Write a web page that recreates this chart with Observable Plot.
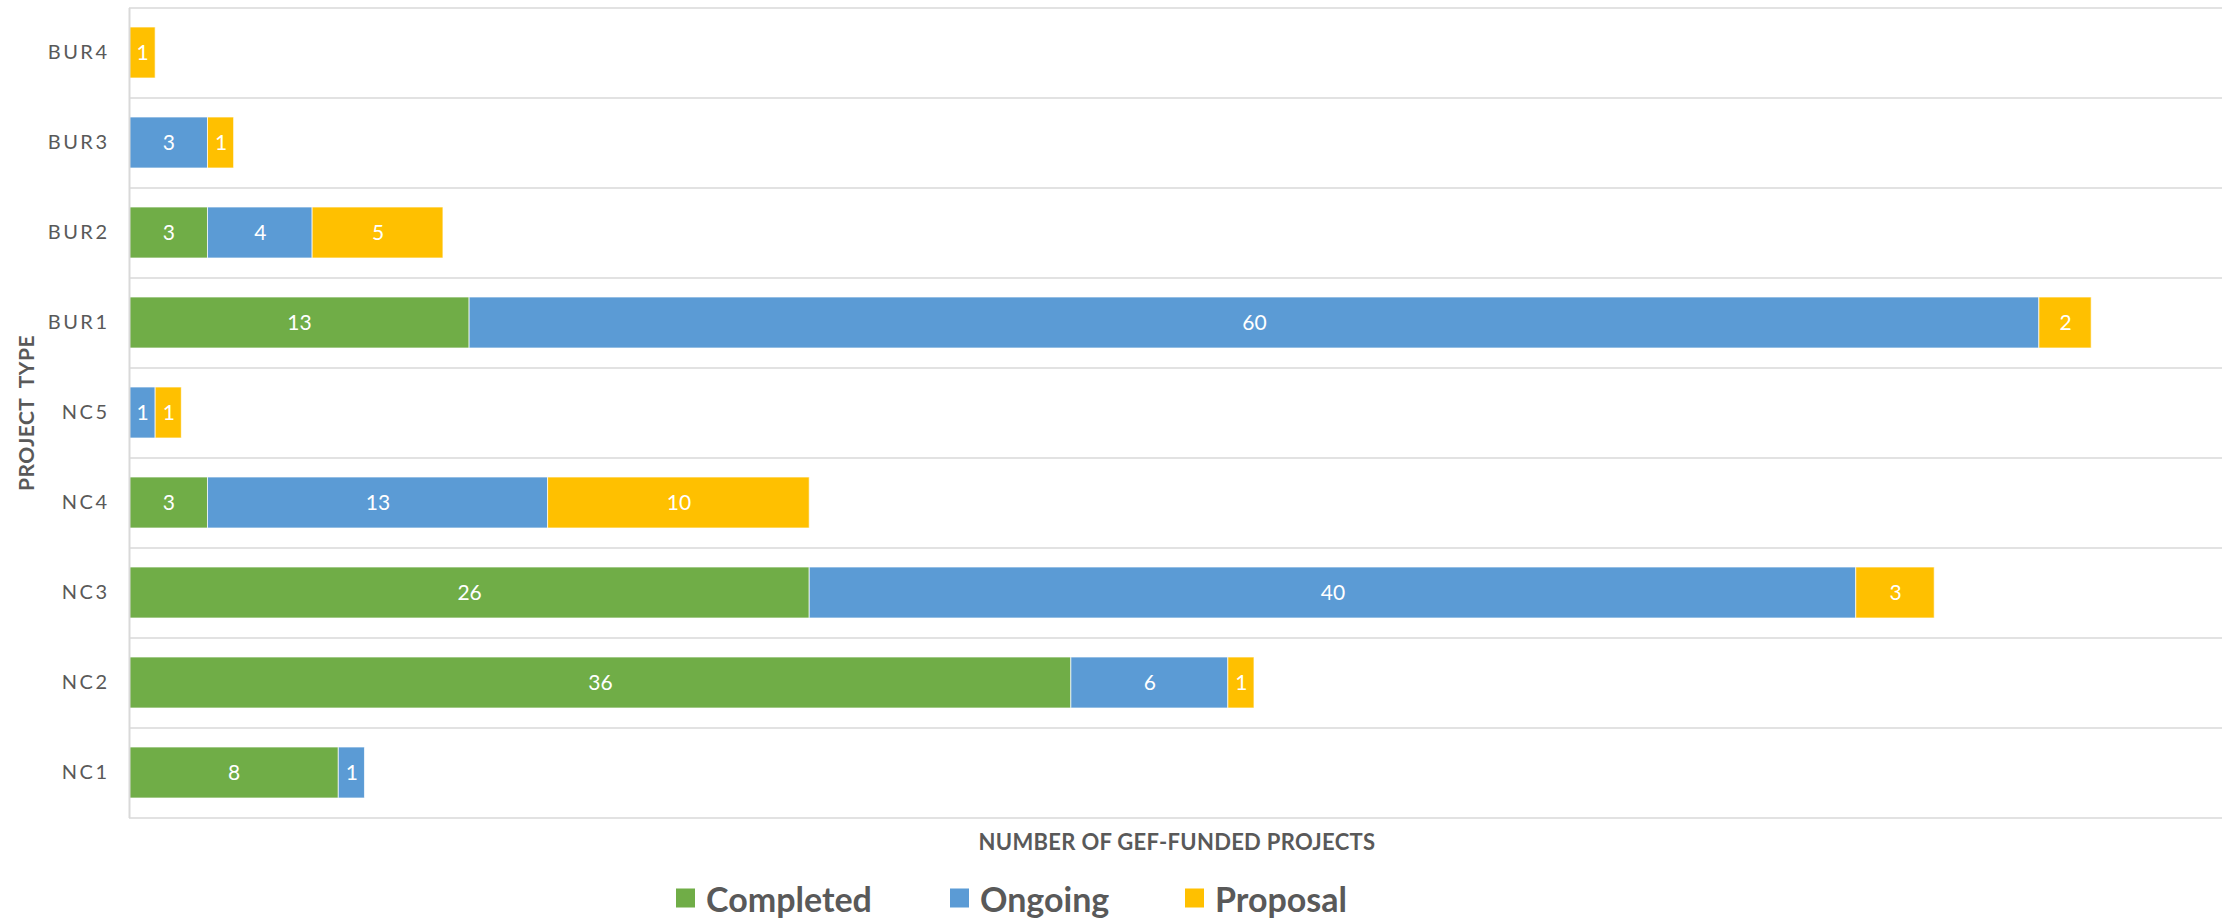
<!DOCTYPE html>
<html>
<head>
<meta charset="utf-8">
<script src="https://cdn.jsdelivr.net/npm/d3@7"></script>
<script src="https://cdn.jsdelivr.net/npm/@observablehq/plot@0.6"></script>
<style>
  html, body { margin: 0; padding: 0; background: #fff; }
  #wrap { position: relative; width: 2224px; height: 919px; font-family: Lato, "Open Sans", sans-serif; color: #595959; }
  #chart { position: absolute; left: 0; top: 0; }
  #chart svg [aria-label="y-axis tick label"] { font-size: 20px; }
  #chart svg [aria-label="y-axis tick label"] text { letter-spacing: 2.5px; font-size: 20px; fill: #595959; }
  #ylab { position: absolute; left: 25px; top: 413px; transform: translate(-50%, -50%) rotate(-90deg); font-weight: 700; font-size: 21px; letter-spacing: 0.5px; word-spacing: 5px; white-space: nowrap; }
  #xlab { position: absolute; left: 1177px; top: 841px; transform: translate(-50%, -50%); font-weight: 700; font-size: 22px; letter-spacing: 0.3px; white-space: nowrap; }
  #legend { position: absolute; left: 0; top: 898px; width: 2224px; height: 0; }
  #legend .item { position: absolute; top: 0; transform: translateY(-50%); display: flex; align-items: center; font-weight: 700; font-size: 34px; white-space: nowrap; }
  #legend .sw { width: 19px; height: 19px; margin-right: 11px; }
</style>
</head>
<body>
<div id="wrap">
  <div id="chart"></div>
  <div id="ylab">PROJECT TYPE</div>
  <div id="xlab">NUMBER OF GEF-FUNDED PROJECTS</div>
  <div id="legend"></div>
</div>
<script>
// Data
const types = ["BUR4", "BUR3", "BUR2", "BUR1", "NC5", "NC4", "NC3", "NC2", "NC1"];
const statuses = ["Completed", "Ongoing", "Proposal"];
const completed = [0, 0, 3, 13, 0, 3, 26, 36, 8];
const ongoing   = [0, 3, 4, 60, 1, 13, 40, 6, 1];
const proposal  = [1, 1, 5, 2, 1, 10, 3, 1, 0];
const colors = ["#70AD47", "#5B9BD5", "#FFC000"];
const legendLeft = [676, 950, 1185];

const series = [completed, ongoing, proposal];
const rows = [];
statuses.forEach((s, si) => {
  types.forEach((t, ti) => {
    rows.push({type: t, status: s, value: series[si][ti]});
  });
});
const nonzero = rows.filter(d => d.value > 0);

const width = 2224, height = 830;
const marginTop = 8, marginBottom = 12, marginLeft = 129, marginRight = 2;
const step = (height - marginTop - marginBottom) / types.length;

const plot = Plot.plot({
  width, height, marginTop, marginBottom, marginLeft, marginRight,
  style: {fontFamily: "Lato, 'Open Sans', sans-serif", color: "#595959", background: "#fff"},
  x: {domain: [0, 80], axis: null},
  y: {domain: types, paddingInner: 0.43, paddingOuter: 0.215, label: null, tickSize: 0, tickPadding: 20},
  color: {domain: statuses, range: colors},
  marks: [
    Plot.ruleY(types, {y: d => d, dy: -step / 2, stroke: "#D9D9D9", strokeWidth: 1.5}),
    Plot.ruleY(types.slice(-1), {y: d => d, dy: step / 2, stroke: "#D9D9D9", strokeWidth: 1.5}),
    Plot.barX(nonzero, {x: "value", y: "type", fill: "status", order: statuses, stroke: "#ffffff", strokeWidth: 1, strokeOpacity: 0.7}),
    Plot.text(nonzero, Plot.stackX({x: "value", y: "type", z: "status", order: statuses, text: d => String(d.value), fill: "#ffffff", fontSize: 21})),
    Plot.ruleX([0], {stroke: "#D9D9D9", strokeWidth: 2})
  ]
});
document.getElementById("chart").appendChild(plot);

const legend = document.getElementById("legend");
statuses.forEach((s, i) => {
  const item = document.createElement("div");
  item.className = "item";
  item.style.left = legendLeft[i] + "px";
  const sw = document.createElement("div");
  sw.className = "sw";
  sw.style.background = colors[i];
  const lab = document.createElement("span");
  lab.textContent = s;
  item.appendChild(sw);
  item.appendChild(lab);
  legend.appendChild(item);
});
</script>
</body>
</html>
